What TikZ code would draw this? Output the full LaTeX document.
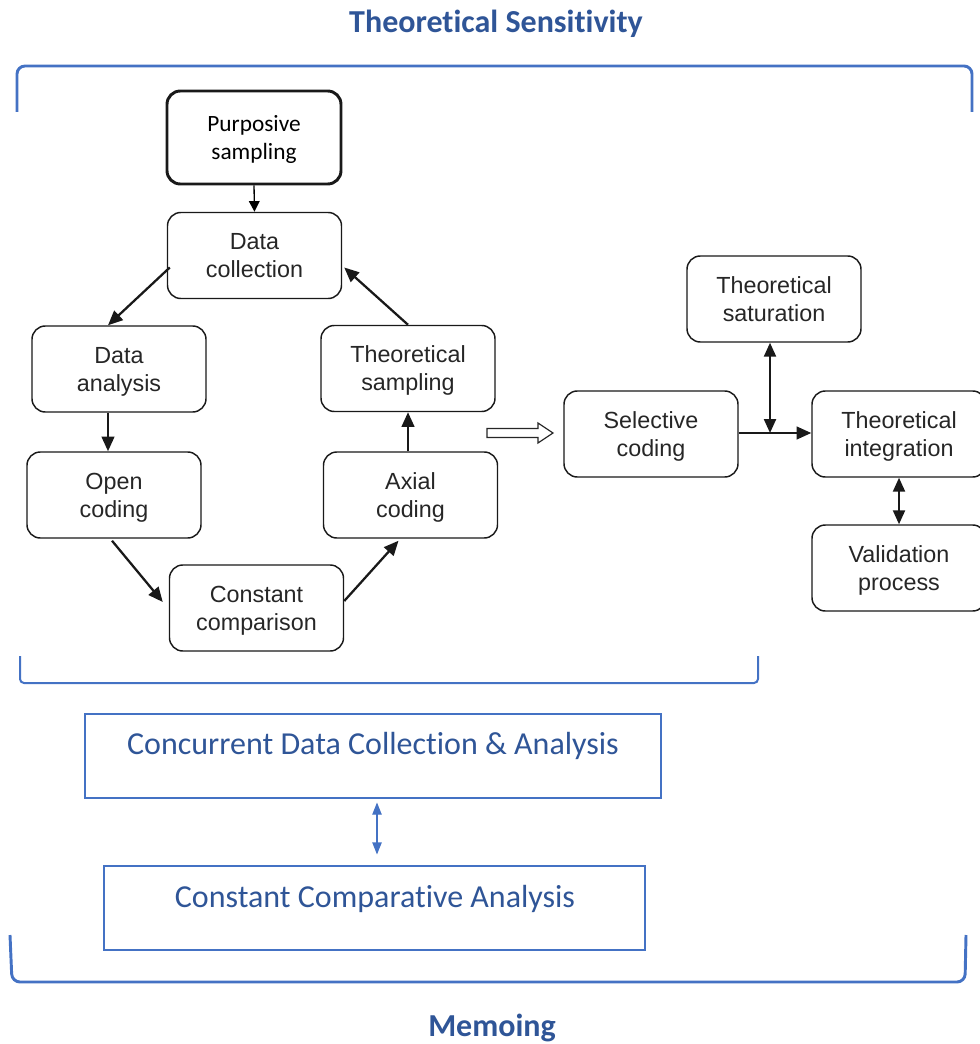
\documentclass[tikz,border=0pt]{standalone}
\usepackage{fontspec}
\setmainfont{Liberation Sans}
\newfontfamily\calfont{Carlito}
\newcommand\tinolig{t\kern0pt i}
\usetikzlibrary{arrows.meta,calc}
\definecolor{bline}{HTML}{4472C4}
\definecolor{btext}{HTML}{2F5597}
\begin{document}
\begin{tikzpicture}[x=0.75pt,y=-0.75pt,
  stepbox/.style={draw=black!90,line width=1.1pt,rounded corners=10pt,minimum width=130.5pt,minimum height=64.5pt,align=center,inner sep=0pt,text depth=0pt,font=\fontsize{17.5}{21}\selectfont,text=black!85},
  conn/.style={line width=1.7pt,draw=black!90,-{Triangle[length=11pt,width=9.5pt]}},
  dconn/.style={line width=1.7pt,draw=black!90,{Triangle[length=10.5pt,width=9pt]}-{Triangle[length=10.5pt,width=9pt]}},
  bluebox/.style={draw=bline,line width=0.8pt,minimum width=432pt,minimum height=63pt,inner sep=0pt},
  bluetext/.style={font=\calfont\fontsize{24}{28}\selectfont,text=btext,inner sep=0pt},
  bracket/.style={draw=bline,line width=2.2pt,rounded corners=6pt},
  title/.style={font=\calfont\bfseries\fontsize{24}{28}\selectfont,text=btext,inner sep=0pt}
]
\useasboundingbox (0,0) rectangle (979,1044);

% titles
\node[title] (t1) at (496,24) {Theore\tinolig cal Sensi\tinolig vity};
\node[title] (t2) at (492,1028) {Memoing};

% brackets
\draw[bracket] (17,112) -- (17,66) -- (972,66) -- (972,112);
\draw[bracket,line width=1.5pt,rounded corners=3pt] (20,656) -- (20,683) -- (758,683) -- (758,656);
\draw[bracket] (10,935) -- (12,982) -- (965,982) -- (966,935);

% process boxes
\node[stepbox,line width=2.2pt,minimum height=69.75pt,font=\calfont\fontsize{17.5}{21.5}\selectfont,text=black] (ps) at (254,137.5) {Purposive\\sampling};
\node[stepbox] (dc) at (254.5,255.5) {Data\\collection};
\node[stepbox] (da) at (119,369) {Data\\analysis};
\node[stepbox] (ts) at (408,368.5) {Theoretical\\sampling};
\node[stepbox] (oc) at (114,495) {Open\\coding};
\node[stepbox] (ax) at (410.5,495) {Axial\\coding};
\node[stepbox] (cc) at (256.5,608) {Constant\\comparison};
\node[stepbox] (sc) at (651,434) {Selective\\coding};
\node[stepbox] (sat) at (774,299) {Theoretical\\saturation};
\node[stepbox] (ti) at (899,434) {Theoretical\\integration};
\node[stepbox] (vp) at (899,568) {Validation\\process};

% connectors
\draw[line width=1pt,-{Triangle[length=8pt,width=8pt]}] (ps.south) -- (dc.north);
\draw[conn] ($(dc.west)+(3,12)$) -- ($(da.north)+(-11,0)$);
\draw[conn] (ts.north) -- ($(dc.east)+(2,12)$);
\draw[conn] ($(da.south)+(-11,0)$) -- ($(oc.north)+(-6,0)$);
\draw[conn] ($(oc.south)+(-2,2)$) -- ($(cc.west)+(-6,-6)$);
\draw[conn] ($(cc.east)+(0,-7)$) -- ($(ax.south)+(-12,2)$);
\draw[conn] ($(ax.north)+(-2.5,0)$) -- ($(ts.south)+(0,0)$);
\coordinate (j) at (770,433);
\draw[conn] ($(sc.east)+(0,-1)$) -- ($(ti.west)+(0,-1)$);
\draw[dconn] (sat.south -| j) -- (j);
\draw[dconn] (ti.south) -- (vp.north);

% hollow arrow
\draw[line width=0.9pt,draw=black!85,fill=white] (487,428.5) -- (538,428.5) -- (538,423) -- (553,433) -- (538,443) -- (538,437.5) -- (487,437.5) -- cycle;

% lower blue boxes
\node[bluebox] (cdca) at (373,756) {};
\node[bluetext] (cdcat) at (373,746) {Concurrent Data Collec\tinolig on \& Analysis};
\node[bluebox,minimum width=405.75pt] (cca) at (374.5,908) {};
\node[bluetext] (ccat) at (375,899) {Constant Compara\tinolig ve Analysis};
\draw[draw=bline,line width=0.8pt,{Triangle[length=9pt,width=7pt]}-{Triangle[length=9pt,width=7pt]}] ($(cdca.south)+(4,4)$) -- ($(cca.north)+(2.5,-11)$);
\end{tikzpicture}
\end{document}
